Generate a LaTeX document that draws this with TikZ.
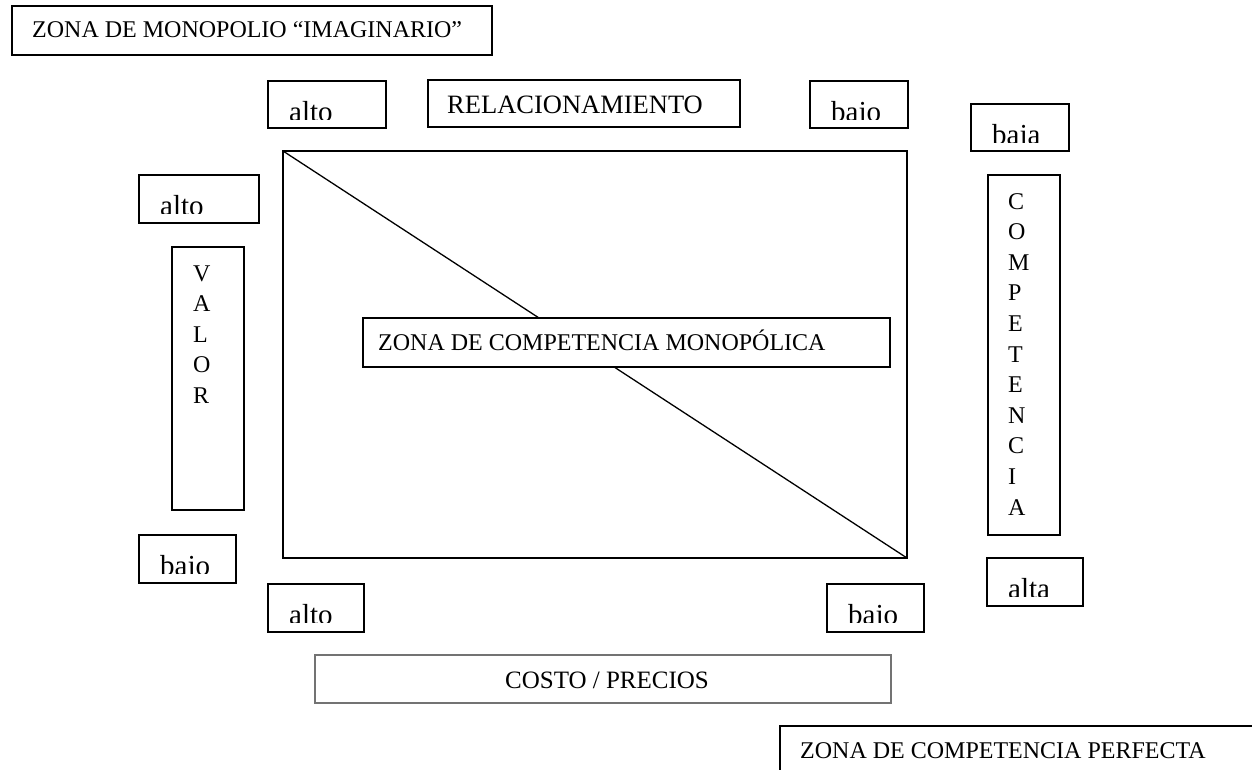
\documentclass[tikz,border=0pt]{standalone}
\usepackage{fontspec}
\setmainfont{Liberation Serif}
\newfontfamily\wordfont{Liberation Serif}
\newcommand\bx[6][]{\node[box,#1,minimum width={(#5-#3)*1pt},minimum height={(#6-#4)*1pt}] (#2) at (#3,#4) {};}
\newcommand\wb[6]{%
  \bx{#1}{#2}{#3}{#4}{#5}
  \begin{scope}
    \clip (#2,#3) rectangle (#4,#3+38);
    \node[wordtxt] (#1t) at (#2+21,#3+40) {#6};
  \end{scope}}
\begin{document}
\begin{tikzpicture}[x=1pt,y=-1pt,
  box/.style={draw, line width=1.6pt, anchor=north west, inner sep=0pt, outer sep=0pt},
  big/.style={font=\rmfamily\fontsize{24}{24}\selectfont, anchor=base west, inner sep=0pt},
  wordtxt/.style={font=\wordfont\fontsize{29}{29}\selectfont, anchor=base west, inner sep=0pt},
  edge/.style={line width=1.3pt}
]
\useasboundingbox (0,0) rectangle (1252,769);

% title boxes
\bx{zm}{12}{6}{492}{55}
\node[big] (zmt) at (32,37) {ZONA DE MONOPOLIO “IMAGINARIO”};
\bx{rel}{428}{80}{740}{127}
\node[big, font=\rmfamily\fontsize{26.5}{26.5}\selectfont] (relt) at (447,113) {RELACIONAMIENTO};

% word boxes
\wb{aT}{268}{81}{386}{128}{alto}
\wb{bT}{810}{81}{908}{128}{bajo}
\wb{bR}{971}{104}{1069}{151}{baja}
\wb{aL}{139}{175}{259}{223}{alto}
\wb{bL}{139}{535}{236}{583}{bajo}
\wb{aB}{268}{584}{364}{632}{alto}
\wb{bB}{827}{584}{924}{632}{bajo}
\wb{aR}{987}{558}{1083}{606}{alta}

% main rectangle and diagonal
\bx{main}{283}{151}{907}{558}
\draw[edge] (main.north west) -- (main.south east);

% centre box
\bx[fill=white]{mono}{363}{318}{890}{367}
\node[big] (monot) at (378,350) {ZONA DE COMPETENCIA MONOPÓLICA};

% vertical boxes
\bx{valor}{172}{247}{244}{510}
\foreach \l [count=\i] in {V,A,L,O,R}
  \node[big] (v\i) at (193,{281+(\i-1)*30.6}) {\l};
\bx{comp}{988}{175}{1060}{535}
\foreach \l [count=\i] in {C,O,M,P,E,T,E,N,C,I,A}
  \node[big] (c\i) at (1008,{209+(\i-1)*30.6}) {\l};

% costo box
\bx[draw=black!55, line width=1.2pt]{costo}{315}{655}{891}{703}
\node[big, anchor=base, font=\rmfamily\fontsize{25}{25}\selectfont] (costot) at (607,688) {COSTO / PRECIOS};

% perfect competition (open box)
\coordinate (pBL) at (780,775);
\coordinate (pTR) at (1260,726);
\draw[line width=1.6pt] (pBL) |- (pTR);
\node[big] (perft) at (800,758) {ZONA DE COMPETENCIA PERFECTA};
\end{tikzpicture}
\end{document}
